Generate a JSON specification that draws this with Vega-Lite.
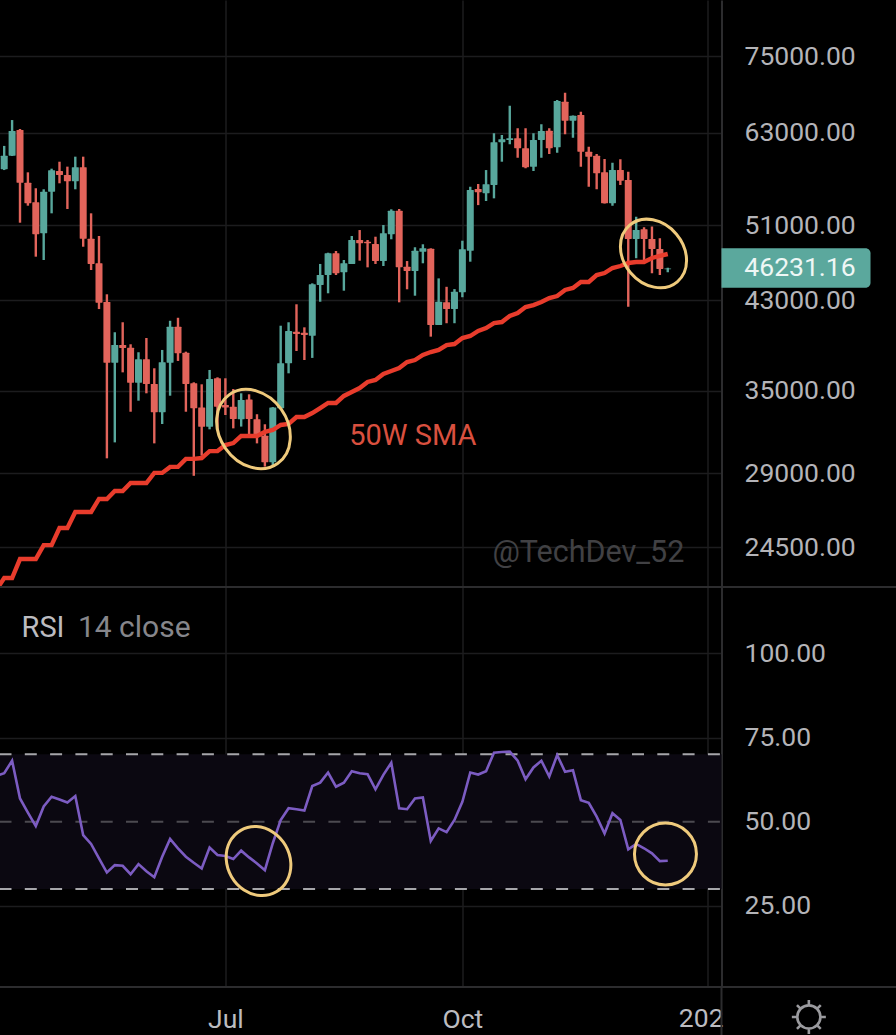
{
  "$schema": "https://vega.github.io/schema/vega-lite/v6.json",
  "background": "#000000",
  "padding": {"left": -1.5, "top": 0, "right": 0, "bottom": 0},
  "spacing": 0,
  "bounds": "flush",
  "config": {
    "view": {"stroke": null},
    "font": "Roboto",
    "text": {"font": "Roboto"},
    "axis": {
      "title": null,
      "labelFont": "Roboto",
      "labelFontSize": 26.5,
      "labelColor": "#b4b4b8",
      "ticks": false,
      "gridColor": "#1c1c1e",
      "gridWidth": 1.5,
      "domainColor": "#2c2c2e",
      "domainWidth": 2,
      "labelOverlap": false,
      "labelBound": false,
      "labelFlush": false
    }
  },
  "datasets": {
    "bars": [
      {"date":"2021-04-05","open":57000,"high":58900,"low":56800,"close":58000,"sma":22217,"rsi":63.6},
      {"date":"2021-04-08","open":57940,"high":61110,"low":57840,"close":59770,"sma":22830,"rsi":64.4},
      {"date":"2021-04-11","open":59770,"high":64820,"low":59720,"close":63220,"sma":22830,"rsi":68.1},
      {"date":"2021-04-14","open":63360,"high":63510,"low":51300,"close":56200,"sma":23840,"rsi":56.9},
      {"date":"2021-04-17","open":56200,"high":57540,"low":53330,"close":53620,"sma":23840,"rsi":52.7},
      {"date":"2021-04-20","open":53740,"high":55490,"low":47480,"close":49960,"sma":23840,"rsi":48.7},
      {"date":"2021-04-23","open":50080,"high":55360,"low":47120,"close":55060,"sma":24610,"rsi":54.5},
      {"date":"2021-04-26","open":55060,"high":58020,"low":52410,"close":57800,"sma":24610,"rsi":57.4},
      {"date":"2021-04-29","open":57710,"high":58950,"low":56120,"close":57190,"sma":25590,"rsi":56.6},
      {"date":"2021-05-02","open":57190,"high":58290,"low":52930,"close":56380,"sma":25590,"rsi":55.7},
      {"date":"2021-05-05","open":56380,"high":59630,"low":55360,"close":58200,"sma":26540,"rsi":57.6},
      {"date":"2021-05-08","open":58200,"high":59630,"low":48570,"close":49470,"sma":26540,"rsi":46.0},
      {"date":"2021-05-11","open":49470,"high":52410,"low":46060,"close":46700,"sma":26540,"rsi":43.4},
      {"date":"2021-05-14","open":46770,"high":49770,"low":42140,"close":42750,"sma":27340,"rsi":39.1},
      {"date":"2021-05-17","open":42820,"high":43580,"low":29990,"close":37290,"sma":27340,"rsi":34.9},
      {"date":"2021-05-20","open":37290,"high":39970,"low":31100,"close":38820,"sma":27840,"rsi":37.1},
      {"date":"2021-05-23","open":38820,"high":40890,"low":36480,"close":38560,"sma":27840,"rsi":36.9},
      {"date":"2021-05-26","open":38590,"high":38890,"low":33350,"close":35630,"sma":28350,"rsi":34.4},
      {"date":"2021-05-29","open":35630,"high":38190,"low":34200,"close":37580,"sma":28350,"rsi":37.4},
      {"date":"2021-06-01","open":37580,"high":39450,"low":34780,"close":35530,"sma":28350,"rsi":35.3},
      {"date":"2021-06-04","open":35530,"high":36820,"low":31030,"close":33310,"sma":29010,"rsi":33.5},
      {"date":"2021-06-07","open":33310,"high":38390,"low":32430,"close":37320,"sma":29010,"rsi":39.6},
      {"date":"2021-06-10","open":37290,"high":41030,"low":34590,"close":40480,"sma":29410,"rsi":44.9},
      {"date":"2021-06-13","open":40480,"high":41310,"low":37440,"close":38100,"sma":29410,"rsi":42.1},
      {"date":"2021-06-16","open":38150,"high":38240,"low":33350,"close":35530,"sma":29950,"rsi":39.6},
      {"date":"2021-06-19","open":35580,"high":35660,"low":28820,"close":33610,"sma":29950,"rsi":37.8},
      {"date":"2021-06-22","open":33680,"high":35500,"low":30170,"close":32220,"sma":30010,"rsi":36.1},
      {"date":"2021-06-25","open":32220,"high":36680,"low":32040,"close":35930,"sma":30490,"rsi":42.3},
      {"date":"2021-06-28","open":35990,"high":36070,"low":31990,"close":33730,"sma":30490,"rsi":40.1},
      {"date":"2021-07-01","open":33860,"high":35990,"low":33100,"close":33680,"sma":30910,"rsi":39.8},
      {"date":"2021-07-04","open":33730,"high":35120,"low":32110,"close":32800,"sma":31050,"rsi":38.9},
      {"date":"2021-07-07","open":32780,"high":34780,"low":32240,"close":34250,"sma":31560,"rsi":41.4},
      {"date":"2021-07-10","open":34300,"high":34700,"low":31630,"close":32800,"sma":31560,"rsi":39.4},
      {"date":"2021-07-13","open":32780,"high":33160,"low":31030,"close":31500,"sma":31560,"rsi":37.6},
      {"date":"2021-07-16","open":31570,"high":32410,"low":29430,"close":29720,"sma":31850,"rsi":35.6},
      {"date":"2021-07-19","open":29720,"high":33700,"low":29430,"close":33680,"sma":31990,"rsi":43.6},
      {"date":"2021-07-22","open":33610,"high":40570,"low":33610,"close":37240,"sma":32360,"rsi":50.5},
      {"date":"2021-07-25","open":37240,"high":40890,"low":36400,"close":40080,"sma":32430,"rsi":54.0},
      {"date":"2021-07-28","open":40020,"high":42600,"low":38300,"close":39810,"sma":32950,"rsi":53.7},
      {"date":"2021-07-31","open":39930,"high":40420,"low":37520,"close":39720,"sma":32950,"rsi":53.3},
      {"date":"2021-08-03","open":39650,"high":44680,"low":37700,"close":44590,"sma":33250,"rsi":60.6},
      {"date":"2021-08-06","open":44510,"high":46700,"low":42850,"close":45540,"sma":33630,"rsi":61.6},
      {"date":"2021-08-09","open":45540,"high":47910,"low":43680,"close":47850,"sma":34020,"rsi":64.6},
      {"date":"2021-08-12","open":47850,"high":48100,"low":45540,"close":45720,"sma":34020,"rsi":60.4},
      {"date":"2021-08-15","open":45820,"high":47120,"low":43940,"close":46770,"sma":34570,"rsi":61.6},
      {"date":"2021-08-18","open":46700,"high":49770,"low":46700,"close":49320,"sma":34880,"rsi":65.0},
      {"date":"2021-08-21","open":49320,"high":50450,"low":47050,"close":48950,"sma":35200,"rsi":64.4},
      {"date":"2021-08-24","open":49130,"high":49320,"low":46340,"close":48950,"sma":35690,"rsi":64.1},
      {"date":"2021-08-27","open":48870,"high":49690,"low":46700,"close":47010,"sma":35850,"rsi":59.6},
      {"date":"2021-08-30","open":47010,"high":51030,"low":46480,"close":50080,"sma":36340,"rsi":63.9},
      {"date":"2021-09-02","open":49960,"high":52890,"low":49400,"close":52720,"sma":36590,"rsi":67.5},
      {"date":"2021-09-05","open":52720,"high":52930,"low":42790,"close":46340,"sma":36840,"rsi":54.0},
      {"date":"2021-09-08","open":46410,"high":47010,"low":44080,"close":45960,"sma":37350,"rsi":53.7},
      {"date":"2021-09-11","open":45960,"high":48510,"low":43440,"close":48130,"sma":37520,"rsi":56.9},
      {"date":"2021-09-14","open":48020,"high":48840,"low":46770,"close":48390,"sma":37950,"rsi":57.2},
      {"date":"2021-09-17","open":48350,"high":48390,"low":39570,"close":40640,"sma":38210,"rsi":44.3},
      {"date":"2021-09-20","open":40640,"high":45190,"low":40640,"close":42850,"sma":38390,"rsi":48.0},
      {"date":"2021-09-23","open":42790,"high":44330,"low":40800,"close":42140,"sma":38820,"rsi":46.9},
      {"date":"2021-09-26","open":42140,"high":44100,"low":40800,"close":43840,"sma":38910,"rsi":50.5},
      {"date":"2021-09-29","open":43780,"high":49240,"low":43290,"close":48280,"sma":39450,"rsi":55.9},
      {"date":"2021-10-02","open":48130,"high":55680,"low":46940,"close":55270,"sma":39630,"rsi":64.6},
      {"date":"2021-10-05","open":55390,"high":56030,"low":53400,"close":54980,"sma":40090,"rsi":64.0},
      {"date":"2021-10-08","open":54860,"high":57840,"low":53900,"close":55990,"sma":40360,"rsi":65.0},
      {"date":"2021-10-11","open":55900,"high":62900,"low":54230,"close":61620,"sma":40820,"rsi":70.5},
      {"date":"2021-10-14","open":61620,"high":62650,"low":58950,"close":62030,"sma":40910,"rsi":70.7},
      {"date":"2021-10-17","open":61940,"high":66980,"low":61340,"close":62170,"sma":41480,"rsi":70.8},
      {"date":"2021-10-20","open":62170,"high":63610,"low":59490,"close":60780,"sma":41760,"rsi":68.1},
      {"date":"2021-10-23","open":60780,"high":63610,"low":58070,"close":58200,"sma":42330,"rsi":62.6},
      {"date":"2021-10-26","open":58290,"high":62900,"low":57710,"close":61940,"sma":42520,"rsi":66.1},
      {"date":"2021-10-29","open":61940,"high":64200,"low":59490,"close":63220,"sma":42820,"rsi":68.1},
      {"date":"2021-11-01","open":63260,"high":63610,"low":59990,"close":60780,"sma":43210,"rsi":63.4},
      {"date":"2021-11-04","open":60910,"high":67850,"low":60170,"close":67690,"sma":43410,"rsi":69.8},
      {"date":"2021-11-07","open":67590,"high":68970,"low":62750,"close":64720,"sma":44010,"rsi":64.8},
      {"date":"2021-11-10","open":64720,"high":65500,"low":62260,"close":65450,"sma":44210,"rsi":65.3},
      {"date":"2021-11-13","open":65560,"high":66060,"low":58290,"close":60310,"sma":44820,"rsi":56.4},
      {"date":"2021-11-16","open":60310,"high":60990,"low":55680,"close":59630,"sma":44820,"rsi":55.6},
      {"date":"2021-11-19","open":59770,"high":59990,"low":55360,"close":57410,"sma":45530,"rsi":51.5},
      {"date":"2021-11-22","open":57540,"high":59310,"low":53600,"close":53620,"sma":45740,"rsi":46.5},
      {"date":"2021-11-25","open":53620,"high":58820,"low":53330,"close":57840,"sma":46270,"rsi":52.5},
      {"date":"2021-11-28","open":57840,"high":59270,"low":55900,"close":56450,"sma":46480,"rsi":50.5},
      {"date":"2021-12-01","open":56540,"high":57620,"low":42360,"close":49430,"sma":46800,"rsi":41.8},
      {"date":"2021-12-04","open":49430,"high":52000,"low":47300,"close":50450,"sma":46910,"rsi":43.4},
      {"date":"2021-12-07","open":50530,"high":50780,"low":47120,"close":49430,"sma":46910,"rsi":42.1},
      {"date":"2021-12-10","open":49430,"high":50850,"low":45720,"close":48320,"sma":47340,"rsi":40.6},
      {"date":"2021-12-13","open":48320,"high":49510,"low":45540,"close":46160,"sma":47560,"rsi":38.3},
      {"date":"2021-12-16","open":46130,"high":46300,"low":45820,"close":46231.16,"sma":47770,"rsi":38.4}
    ],
    "priceNotes": [
      {"date":"2021-08-17T00:00:00Z","price":31590,"label":"50W SMA","kind":"sma"},
      {"date":"2021-10-10T10:00:00Z","price":24170,"label":"@TechDev_52","kind":"mark"}
    ]
  },
  "vconcat": [
    {
      "width": 722,
      "height": 587,
      "encoding": {
        "x": {
          "field": "date",
          "type": "temporal",
          "scale": {"type": "utc", "domain": ["2021-04-06T05:10:00Z", "2022-01-05T09:50:00Z"], "padding": 0},
          "axis": {"labels": false, "domain": false, "grid": true, "values": ["2021-07-01", "2021-09-29", "2021-12-31"]}
        }
      },
      "layer": [
        {
          "data": {"name": "bars"},
          "mark": {"type": "rule", "strokeWidth": 2.4, "clip": true},
          "encoding": {
            "y": {
              "field": "low",
              "type": "quantitative",
              "scale": {"type": "log", "domain": [22370, 85210], "nice": false, "zero": false},
              "axis": {
                "orient": "right",
                "values": [24500, 29000, 35000, 43000, 51000, 63000, 75000],
                "format": ".2f",
                "domain": true,
                "grid": true,
                "labelPadding": 22.5
              }
            },
            "y2": {"field": "high"},
            "color": {"condition": {"test": "datum.close >= datum.open", "value": "#58a79c"}, "value": "#e2645b"}
          }
        },
        {
          "data": {"name": "bars"},
          "mark": {"type": "bar", "size": 7, "clip": true, "cornerRadius": 0.5},
          "encoding": {
            "y": {"field": "open", "type": "quantitative"},
            "y2": {"field": "close"},
            "color": {"condition": {"test": "datum.close >= datum.open", "value": "#58a79c"}, "value": "#e2645b"}
          }
        },
        {
          "data": {"name": "bars"},
          "mark": {"type": "line", "color": "#e83c2c", "strokeWidth": 4.4, "clip": true, "interpolate": "linear"},
          "encoding": {"y": {"field": "sma", "type": "quantitative"}}
        },
        {
          "data": {"values": [{"date": "2021-07-11T16:00:00Z", "price": 32062}]},
          "mark": {"type": "point", "shape": "M.574,.819A1,.81 55 1,1 -.574,-.819A1,.81 55 1,1 .574,.819Z", "size": 7056, "filled": false, "stroke": "#efca7c", "strokeWidth": 3, "opacity": 1},
          "encoding": {"y": {"field": "price", "type": "quantitative"}}
        },
        {
          "data": {"values": [{"date": "2021-12-10T14:00:00Z", "price": 47830}]},
          "mark": {"type": "point", "shape": "M.643,.766A1,.81 50 1,1 -.643,-.766A1,.81 50 1,1 .643,.766Z", "size": 5476, "filled": false, "stroke": "#efca7c", "strokeWidth": 3, "opacity": 1},
          "encoding": {"y": {"field": "price", "type": "quantitative"}}
        },
        {
          "data": {"name": "priceNotes"},
          "mark": {"type": "text", "align": "left", "baseline": "middle", "fontSize": 29},
          "encoding": {
            "y": {"field": "price", "type": "quantitative"},
            "text": {"field": "label"},
            "size": {"condition": {"test": "datum.kind === 'sma'", "value": 29}, "value": 30.5},
            "color": {"condition": {"test": "datum.kind === 'sma'", "value": "#d9503f"}, "value": "#414144"}
          }
        },
        {
          "data": {"values": [{"date": "2022-01-05T09:50:00Z", "date2": "2022-03-03T00:00:00Z", "price": 48390, "price2": 44240}]},
          "mark": {"type": "rect", "color": "#5ba89d", "cornerRadiusTopRight": 5, "cornerRadiusBottomRight": 5},
          "encoding": {
            "x2": {"field": "date2"},
            "y": {"field": "price", "type": "quantitative"},
            "y2": {"field": "price2"}
          }
        },
        {
          "data": {"values": [{"date": "2022-01-14T02:00:00Z", "price": 46231.16, "label": "46231.16"}]},
          "mark": {"type": "text", "align": "left", "baseline": "middle", "fontSize": 26.5, "color": "#eef7f5"},
          "encoding": {
            "y": {"field": "price", "type": "quantitative"},
            "text": {"field": "label"}
          }
        }
      ]
    },
    {
      "width": 722,
      "height": 400,
      "encoding": {
        "x": {
          "field": "date",
          "type": "temporal",
          "scale": {"type": "utc", "domain": ["2021-04-06T05:10:00Z", "2022-01-05T09:50:00Z"], "padding": 0},
          "axis": {
            "domain": false,
            "grid": true,
            "values": ["2021-07-01", "2021-09-29", "2021-12-31"],
            "labelPadding": 19,
            "labelColor": "#bcbcc0",
            "labelExpr": "utcFormat(datum.value, '%m') == '07' ? 'Jul' : utcFormat(datum.value, '%m') == '09' ? 'Oct' : ''"
          }
        }
      },
      "layer": [
        {
          "data": {"values": [{"lo": 30, "hi": 70}]},
          "mark": {"type": "rect", "color": "#0b0811"},
          "encoding": {
            "x": {"value": 0},
            "x2": {"value": 722},
            "y": {
              "field": "lo",
              "type": "quantitative",
              "scale": {"domain": [0.9, 119.7], "nice": false, "zero": false},
              "axis": {
                "orient": "right",
                "values": [25, 50, 75, 100],
                "format": ".2f",
                "domain": true,
                "grid": true,
                "labelPadding": 22.5
              }
            },
            "y2": {"field": "hi"}
          }
        },
        {
          "data": {"values": [{"level": 70, "tone": "edge"}, {"level": 50, "tone": "mid"}, {"level": 30, "tone": "edge"}]},
          "mark": {"type": "rule", "strokeDash": [12, 13.3], "strokeWidth": 2},
          "encoding": {
            "x": {"value": 0},
            "x2": {"value": 722},
            "y": {"field": "level", "type": "quantitative"},
            "color": {"condition": {"test": "datum.tone === 'edge'", "value": "#a6a6aa"}, "value": "#4c4a50"}
          }
        },
        {
          "data": {"name": "bars"},
          "mark": {"type": "line", "color": "#7c5cc2", "strokeWidth": 2.6, "clip": true},
          "encoding": {"y": {"field": "rsi", "type": "quantitative"}}
        },
        {
          "data": {"values": [{"date": "2021-07-13T14:00:00Z", "rsi": 38.3}]},
          "mark": {"type": "point", "shape": "M.5,.866A1,.873 60 1,1 -.5,-.866A1,.873 60 1,1 .5,.866Z", "size": 5041, "filled": false, "stroke": "#efca7c", "strokeWidth": 3, "opacity": 1},
          "encoding": {"y": {"field": "rsi", "type": "quantitative"}}
        },
        {
          "data": {"values": [{"date": "2021-12-15T03:00:00Z", "rsi": 40.4}]},
          "mark": {"type": "point", "shape": "circle", "size": 3844, "filled": false, "stroke": "#efca7c", "strokeWidth": 3, "opacity": 1},
          "encoding": {"y": {"field": "rsi", "type": "quantitative"}}
        },
        {
          "data": {"values": [
            {"date": "2021-04-14T14:00:00Z", "rsi": 107.5, "label": "RSI", "kind": "name"},
            {"date": "2021-05-06T00:00:00Z", "rsi": 107.5, "label": "14 close", "kind": "args"},
            {"date": "2021-12-20T05:00:00Z", "rsi": -8.6, "label": "202", "kind": "tick"}
          ]},
          "mark": {"type": "text", "align": "left", "baseline": "middle", "fontSize": 29},
          "encoding": {
            "y": {"field": "rsi", "type": "quantitative"},
            "text": {"field": "label"},
            "size": {"condition": [{"test": "datum.kind === 'tick'", "value": 26.5}, {"test": "datum.kind === 'args'", "value": 30}], "value": 29},
            "color": {"condition": {"test": "datum.kind === 'args'", "value": "#86868b"}, "value": "#bcbcc0"}
          }
        },
        {
          "data": {"values": [
            {"date": "2021-04-06T05:10:00Z", "date2": "2022-03-13T00:00:00Z", "rsi": 119.7},
            {"date": "2021-04-06T05:10:00Z", "date2": "2022-03-13T00:00:00Z", "rsi": 0.9}
          ]},
          "mark": {"type": "rule", "color": "#2c2c2e", "strokeWidth": 2},
          "encoding": {
            "x2": {"field": "date2"},
            "y": {"field": "rsi", "type": "quantitative"}
          }
        },
        {
          "data": {"values": [{"date": "2022-01-05T09:50:00Z", "rsi": 0.9, "rsi2": -13.4}]},
          "mark": {"type": "rule", "color": "#2c2c2e", "strokeWidth": 2},
          "encoding": {
            "y": {"field": "rsi", "type": "quantitative"},
            "y2": {"field": "rsi2"}
          }
        },
        {
          "data": {"values": [{"date": "2022-02-07T14:00:00Z", "rsi": -8.0}]},
          "mark": {
            "type": "point",
            "shape": "M.68,0A.68,.68 0 1,1 -.68,0A.68,.68 0 1,1 .68,0M0,-.72L0,-1M0,.72L0,1M.72,0L1,0M-.72,0L-1,0M.52,-.52L.7,-.7M-.52,-.52L-.7,-.7M.52,.52L.7,.7M-.52,.52L-.7,.7",
            "size": 1156,
            "filled": false,
            "stroke": "#9a9a9e",
            "strokeWidth": 2.6,
            "opacity": 1
          },
          "encoding": {"y": {"field": "rsi", "type": "quantitative"}}
        }
      ]
    }
  ]
}
